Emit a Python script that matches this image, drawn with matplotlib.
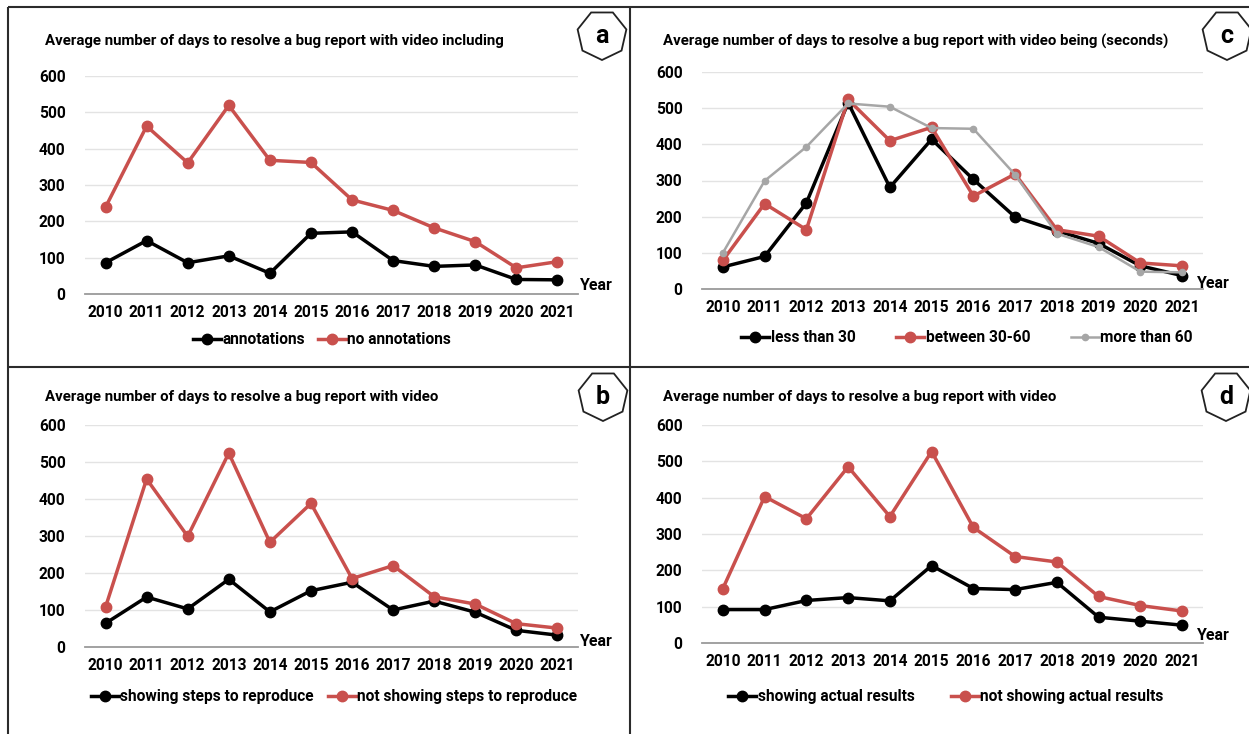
import matplotlib
matplotlib.use("Agg")
import matplotlib.pyplot as plt
from matplotlib.patches import RegularPolygon
from matplotlib.lines import Line2D

plt.rcParams['font.family'] = ['Roboto', 'DejaVu Sans']
plt.rcParams['font.weight'] = 'bold'

years = ["2010", "2011", "2012", "2013", "2014", "2015",
         "2016", "2017", "2018", "2019", "2020", "2021"]
y_ticks = [0, 100, 200, 300, 400, 500, 600]

# (a) annotations
annotations = [86, 147, 86, 105, 57, 167, 171, 92, 76, 80, 40, 39]
no_annotations = [239, 462, 361, 519, 368, 362, 259, 230, 182, 144, 72, 89]

# (c) video length in seconds
less_than_30 = [61, 90, 238, 515, 281, 414, 303, 199, 161, 126, 64, 37]
between_30_60 = [79, 236, 164, 524, 410, 447, 257, 318, 164, 146, 72, 64]
more_than_60 = [100, 299, 393, 513, 504, 445, 443, 316, 153, 116, 48, 46]

# (b) steps to reproduce
showing_steps = [64, 135, 103, 183, 95, 152, 175, 100, 124, 94, 45, 32]
not_showing_steps = [108, 454, 299, 524, 283, 388, 185, 220, 136, 116, 63, 51]

# (d) actual results
showing_results = [92, 92, 117, 125, 116, 213, 150, 147, 167, 71, 60, 49]
not_showing_results = [150, 403, 342, 485, 348, 527, 318, 238, 223, 128, 103, 88]

W, H = 1249, 734
BLACK = "#000000"
RED = "#C9504D"
GREY = "#A6A6A6"

fig = plt.figure(figsize=(W / 100, H / 100), dpi=100)
fig.patch.set_facecolor("white")

# full-figure overlay in pixel units for frames and badges
over = fig.add_axes([0, 0, 1, 1], zorder=5)
over.set_xlim(0, W)
over.set_ylim(H, 0)
over.axis("off")
over.patch.set_alpha(0)

frame_kw = dict(color="#2b2b2b", lw=1.5, solid_capstyle="butt")
over.plot([8, 8], [7, H], **frame_kw)
over.plot([8, W], [7, 7], **frame_kw)
over.plot([630, 630], [7, H], **frame_kw)
over.plot([8, W], [367, 367], **frame_kw)


def style_series(name):
    if name == "grey":
        return dict(color=GREY, lw=1.8, marker="o", ms=4.5)
    col = BLACK if name == "black" else RED
    return dict(color=col, lw=2.5, marker="o", ms=7.5)


def panel(box, title, title_xy, series, letter, badge_xy, year_xy,
          legend_xy, colspacing):
    left, right, top, bottom = box
    ax = fig.add_axes([left / W, 1 - bottom / H, (right - left) / W,
                       (bottom - top) / H])
    x = list(range(len(years)))
    for label, vals, kind in series:
        ax.plot(x, vals, label=label, clip_on=False, zorder=3,
                **style_series(kind))
    ax.set_xlim(-0.5, len(years) - 0.5)
    ax.set_ylim(0, 600)
    ax.set_yticks(y_ticks)
    ax.set_yticklabels([str(t) for t in y_ticks], fontsize=11.2,
                       fontweight="bold")
    ax.set_xticks(x)
    ax.set_xticklabels(years, fontsize=11.2, fontweight="bold")
    ax.tick_params(axis="both", length=0, pad=8)
    ax.tick_params(axis="y", pad=14)
    ax.grid(axis="y", color="#E3E3E3", lw=1.0, zorder=0)
    for s in ("top", "right", "left"):
        ax.spines[s].set_visible(False)
    ax.spines["bottom"].set_color("#9A9A9A")
    ax.spines["bottom"].set_linewidth(1.3)
    ax.set_axisbelow(True)

    over.text(title_xy[0], title_xy[1], title, fontsize=10.8,
              fontweight="bold", ha="left", va="center")
    over.text(year_xy[0], year_xy[1], "Year", fontsize=11.5,
              fontweight="bold", ha="left", va="center")
    over.add_patch(RegularPolygon(badge_xy, numVertices=7, radius=25,
                                  orientation=0, facecolor="white",
                                  edgecolor="#222222", lw=1.3))
    over.text(badge_xy[0], badge_xy[1] + 1, letter, fontsize=18,
              fontweight="bold", ha="center", va="center")

    handles = [Line2D([], [], **style_series(kind)) for _, _, kind in series]
    labels = [lab for lab, _, _ in series]
    ax.legend(handles, labels, loc="center",
              bbox_to_anchor=(legend_xy[0] / W, 1 - legend_xy[1] / H),
              bbox_transform=fig.transFigure, ncol=len(series),
              frameon=False, handlelength=1.8, handletextpad=0.1,
              columnspacing=colspacing,
              prop=dict(family=['Roboto', 'DejaVu Sans'],
                        weight="bold", size=11.2))
    return ax


panel((85, 578, 76, 294),
      "Average number of days to resolve a bug report with video including",
      (45, 41),
      [("annotations", annotations, "black"),
       ("no annotations", no_annotations, "red")],
      "a", (602, 35), (580, 286), (322, 340), 0.8)

panel((702, 1203, 72, 289),
      "Average number of days to resolve a bug report with video being (seconds)",
      (663, 41),
      [("less than 30", less_than_30, "black"),
       ("between 30-60", between_30_60, "red"),
       ("more than 60", more_than_60, "grey")],
      "c", (1227, 35), (1197, 283), (967, 338), 2.6)

panel((85, 578, 425, 647),
      "Average number of days to resolve a bug report with video",
      (45, 397),
      [("showing steps to reproduce", showing_steps, "black"),
       ("not showing steps to reproduce", not_showing_steps, "red")],
      "b", (603, 396), (580, 642), (334, 697), 0.9)

panel((702, 1203, 425, 643),
      "Average number of days to resolve a bug report with video",
      (663, 397),
      [("showing actual results", showing_results, "black"),
       ("not showing actual results", not_showing_results, "red")],
      "d", (1226, 396), (1197, 636), (946, 697), 2.3)

fig.savefig("out.png", dpi=100, facecolor="white")
